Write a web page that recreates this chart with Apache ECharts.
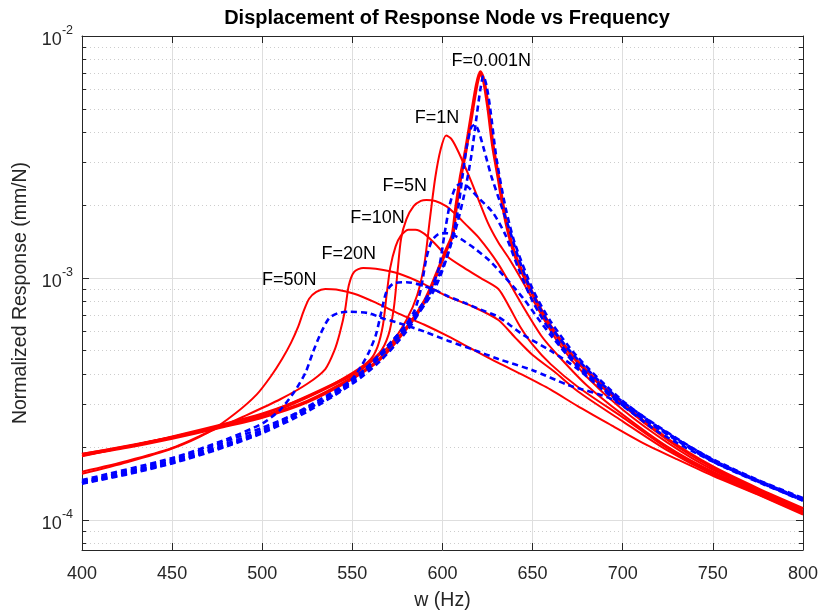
<!DOCTYPE html>
<html><head><meta charset="utf-8">
<script src="https://cdn.jsdelivr.net/npm/echarts@6/dist/echarts.min.js"></script>
<style>html,body{margin:0;padding:0;background:#fff}#c{width:821px;height:616px}</style>
</head><body><div id="c"></div>
<script>
// ---- axis ticks ----
const xTicks = [400, 450, 500, 550, 600, 650, 700, 750, 800];
const yMajor = [1e-4, 1e-3, 1e-2];
const yMinor = [8e-5, 9e-5, 2e-4, 3e-4, 4e-4, 5e-4, 6e-4, 7e-4, 8e-4, 9e-4, 2e-3, 3e-3, 4e-3, 5e-3, 6e-3, 7e-3, 8e-3, 9e-3];
const yRange = [7.5e-5, 1e-2];

// ---- red solid curves: [frequency Hz, response mm/N] ----
const redF0001 = [[400,1.86e-4],[425,2.0e-4],[450,2.18e-4],[475,2.4e-4],[500,2.66e-4],[525,3.08e-4],[550,3.85e-4],[565,4.6e-4],[580,6.2e-4],[590,8.0e-4],[597,1.05e-3],[602,1.3e-3],[605.5,1.5e-3],[607.5,1.95e-3],[610,2.6e-3],[613,3.4e-3],[616.3,4.8e-3],[619,6.3e-3],[621,7.1e-3],[623,6.5e-3],[625.4,5.0e-3],[628,3.5e-3],[631,2.6e-3],[634,1.9e-3],[637,1.5e-3],[641,1.2e-3],[650,0.86e-3],[660,0.63e-3],[675,0.45e-3],[700,0.3e-3],[725,0.215e-3],[750,0.165e-3],[775,0.134e-3],[800,0.111e-3]];
const redF1 = [[400,1.87e-4],[450,2.2e-4],[500,2.68e-4],[550,3.95e-4],[570,5.2e-4],[580,6.7e-4],[586,8.5e-4],[590,1.15e-3],[593,1.75e-3],[596,2.6e-3],[599,3.4e-3],[602,3.88e-3],[605,3.75e-3],[609,3.3e-3],[616,2.5e-3],[625,1.7e-3],[631,1.4e-3],[637,1.2e-3],[645,0.95e-3],[655,0.7e-3],[665,0.53e-3],[680,0.39e-3],[700,0.285e-3],[725,0.208e-3],[750,0.161e-3],[800,0.109e-3]];
const redF5 = [[400,1.84e-4],[450,2.2e-4],[500,2.72e-4],[550,4.0e-4],[565,4.9e-4],[570,5.8e-4],[573,7.5e-4],[575,1.05e-3],[577,1.45e-3],[580,1.75e-3],[584,1.98e-3],[588,2.08e-3],[591,2.1e-3],[596,2.08e-3],[602,1.98e-3],[607,1.84e-3],[613,1.66e-3],[620,1.47e-3],[631,1.14e-3],[643,0.8e-3],[655,0.574e-3],[665,0.47e-3],[680,0.36e-3],[700,0.272e-3],[725,0.2e-3],[750,0.158e-3],[800,0.108e-3]];
const redF10 = [[400,1.83e-4],[450,2.21e-4],[500,2.75e-4],[530,3.35e-4],[550,4.05e-4],[560,4.6e-4],[564,5.2e-4],[567,6.4e-4],[569,8.5e-4],[571,1.1e-3],[574,1.35e-3],[577,1.5e-3],[581,1.58e-3],[585,1.58e-3],[590,1.52e-3],[596,1.38e-3],[603,1.22e-3],[612,1.1e-3],[621,1.0e-3],[631,0.9e-3],[637,0.76e-3],[643,0.63e-3],[650,0.53e-3],[660,0.44e-3],[675,0.355e-3],[700,0.265e-3],[725,0.197e-3],[750,0.156e-3],[800,0.107e-3]];
const redF20 = [[400,1.58e-4],[425,1.75e-4],[450,1.98e-4],[470,2.3e-4],[490,2.68e-4],[510,3.15e-4],[525,3.65e-4],[535,4.2e-4],[540,5.0e-4],[543,5.9e-4],[546,7.4e-4],[548,9.3e-4],[551,1.06e-3],[556,1.1e-3],[563,1.09e-3],[576,1.04e-3],[590,0.94e-3],[603,0.836e-3],[617,0.76e-3],[631,0.67e-3],[640,0.57e-3],[650,0.48e-3],[662,0.41e-3],[675,0.34e-3],[700,0.255e-3],[725,0.193e-3],[750,0.154e-3],[800,0.106e-3]];
const redF50 = [[400,1.55e-4],[425,1.73e-4],[450,1.97e-4],[470,2.3e-4],[485,2.75e-4],[497,3.3e-4],[505,3.94e-4],[511,4.62e-4],[516,5.4e-4],[520,6.3e-4],[523,7.3e-4],[526,8.2e-4],[530,8.75e-4],[535,9.0e-4],[541,8.95e-4],[551,8.6e-4],[563,7.9e-4],[576,7.1e-4],[590,6.4e-4],[603,5.74e-4],[617,5.05e-4],[631,4.45e-4],[645,3.95e-4],[660,3.45e-4],[675,2.95e-4],[694,2.45e-4],[710,2.1e-4],[730,1.78e-4],[750,1.52e-4],[775,1.27e-4],[800,1.05e-4]];

// ---- blue dashed curves ----
const blueA = [[400,1.41e-4],[425,1.54e-4],[450,1.71e-4],[475,1.95e-4],[500,2.28e-4],[525,2.8e-4],[550,3.65e-4],[565,4.5e-4],[580,6.0e-4],[590,7.8e-4],[600,1.1e-3],[607,1.56e-3],[612,2.2e-3],[616,3.2e-3],[619,4.7e-3],[621,6.0e-3],[622.7,6.85e-3],[624.5,6.2e-3],[626.5,5.0e-3],[630,3.1e-3],[635,1.95e-3],[640,1.4e-3],[650,0.9e-3],[660,0.66e-3],[675,0.47e-3],[700,0.31e-3],[725,0.227e-3],[750,0.178e-3],[775,0.146e-3],[800,0.123e-3]];
const blueB = [[400,1.415e-4],[450,1.72e-4],[500,2.3e-4],[550,3.7e-4],[580,6.2e-4],[595,8.8e-4],[603,1.25e-3],[608,1.8e-3],[611,2.6e-3],[613.5,3.5e-3],[616,4.2e-3],[618,4.3e-3],[620,4.05e-3],[623,3.4e-3],[627,2.65e-3],[632,2.05e-3],[637,1.6e-3],[642,1.22e-3],[650,0.86e-3],[660,0.63e-3],[675,0.46e-3],[700,0.307e-3],[750,0.177e-3],[800,0.122e-3]];
const blueC = [[400,1.42e-4],[450,1.73e-4],[500,2.32e-4],[550,3.75e-4],[580,6.4e-4],[592,8.5e-4],[598,1.1e-3],[601,1.5e-3],[604,2.0e-3],[607,2.35e-3],[610,2.45e-3],[614,2.38e-3],[620,2.14e-3],[628,1.86e-3],[635,1.5e-3],[642,1.1e-3],[650,0.8e-3],[660,0.6e-3],[675,0.44e-3],[700,0.303e-3],[750,0.176e-3],[800,0.121e-3]];
const blueD = [[400,1.43e-4],[450,1.75e-4],[500,2.35e-4],[550,3.8e-4],[575,5.8e-4],[584,7.2e-4],[588,9.0e-4],[591,1.2e-3],[594,1.42e-3],[598,1.52e-3],[603,1.53e-3],[610,1.45e-3],[618,1.32e-3],[626,1.18e-3],[635,1.0e-3],[645,0.82e-3],[653,0.68e-3],[660,0.58e-3],[675,0.43e-3],[700,0.3e-3],[750,0.175e-3],[800,0.121e-3]];
const blueE = [[400,1.44e-4],[450,1.77e-4],[500,2.4e-4],[530,3.0e-4],[545,3.5e-4],[553,4.1e-4],[559,4.9e-4],[563,5.8e-4],[566,7.2e-4],[569,8.8e-4],[573,9.5e-4],[580,9.6e-4],[587,9.4e-4],[596,8.9e-4],[603,8.4e-4],[612,7.9e-4],[621,7.4e-4],[631,6.9e-4],[645,5.8e-4],[660,5.0e-4],[675,4.2e-4],[700,0.297e-3],[750,0.174e-3],[800,0.12e-3]];
const blueF = [[400,1.46e-4],[450,1.8e-4],[480,2.15e-4],[500,2.5e-4],[510,2.85e-4],[518,3.4e-4],[524,4.06e-4],[528,4.9e-4],[532,5.8e-4],[537,6.8e-4],[542,7.15e-4],[548,7.25e-4],[559,7.15e-4],[567,6.8e-4],[576,6.5e-4],[590,6.0e-4],[603,5.5e-4],[617,5.05e-4],[631,4.62e-4],[650,4.15e-4],[670,3.6e-4],[694,3.15e-4],[720,0.23e-3],[750,0.174e-3],[800,0.12e-3]];

// ---- annotations ----
const labelNames = ['F=0.001N', 'F=1N', 'F=5N', 'F=10N', 'F=20N', 'F=50N'];
const labelFreq = [627, 597, 579, 564, 548, 515];
const labelResp = [7.9e-3, 4.6e-3, 2.4e-3, 1.76e-3, 1.25e-3, 0.98e-3];

const FONT = '"Liberation Sans", Arial, Helvetica, sans-serif';
const AX = '#262626';
const GRID = '#dedede';
const MINOR = '#cdcdcd';

const chart = echarts.init(document.getElementById('c'), null, {renderer: 'canvas'});

function yLogAxis(extra) {
  return Object.assign({
    type: 'log', logBase: 10, min: yRange[0], max: yRange[1],
    axisLine: {show: false}, axisLabel: {show: false},
    axisTick: {show: false}, splitLine: {show: false}, minorTick: {show: false}
  }, extra);
}

const redSets = [redF0001, redF1, redF5, redF10, redF20, redF50];
const blueSets = [blueA, blueB, blueC, blueD, blueE, blueF];

const series = [];
redSets.forEach((d, i) => {
  series.push({
    type: 'line', data: d, showSymbol: false, symbol: 'none', smooth: 0.25,
    lineStyle: {color: '#ff0000', width: i === 0 ? 3.6 : 2}, z: 3
  });
});
blueSets.forEach((d) => {
  series.push({
    type: 'line', data: d, showSymbol: false, symbol: 'none', smooth: 0.25,
    lineStyle: {color: '#0000ff', width: 2.6, type: [6, 4]}, z: 4
  });
});
series.push({
  type: 'scatter', symbolSize: 1, silent: true, z: 6,
  itemStyle: {opacity: 0},
  data: labelNames.map((n, i) => ({name: n, value: [labelFreq[i], labelResp[i]]})),
  label: {show: true, position: 'inside', formatter: '{b}', color: '#000000', opacity: 1, fontSize: 18, fontFamily: FONT}
});

chart.setOption({
  animation: false,
  backgroundColor: '#ffffff',
  title: {
    text: 'Displacement of Response Node vs Frequency',
    left: 442, top: 3, textAlign: 'center',
    textStyle: {fontSize: 20, fontWeight: 'bold', color: '#000', fontFamily: FONT}
  },
  grid: {left: 82, right: 15, top: 36, bottom: 60, containLabel: false},
  xAxis: [
    {
      type: 'value', min: xTicks[0], max: xTicks[xTicks.length - 1], interval: 50, position: 'bottom',
      axisLine: {show: true, onZero: false, lineStyle: {color: AX, width: 1}},
      axisTick: {show: true, inside: true, length: 7, lineStyle: {color: AX}},
      axisLabel: {color: AX, fontSize: 18, fontFamily: FONT, margin: 15},
      splitLine: {show: true, lineStyle: {color: GRID, width: 1}},
      name: 'w (Hz)', nameLocation: 'middle', nameGap: 41,
      nameTextStyle: {fontSize: 19.5, color: AX, fontFamily: FONT}
    },
    {
      type: 'value', min: xTicks[0], max: xTicks[xTicks.length - 1], interval: 50, position: 'top',
      axisLine: {show: true, onZero: false, lineStyle: {color: AX, width: 1}},
      axisTick: {show: true, inside: true, length: 7, lineStyle: {color: AX}},
      axisLabel: {show: false}, splitLine: {show: false}
    }
  ],
  yAxis: [
    yLogAxis({
      position: 'left',
      axisLine: {show: true, onZero: false, lineStyle: {color: AX, width: 1}},
      axisTick: {show: true, inside: true, length: 7, customValues: yMajor, lineStyle: {color: AX}},
      axisLabel: {
        show: true, customValues: yMajor, margin: 9, color: AX, fontFamily: FONT,
        formatter: (v) => '{b|10}{s|' + Math.round(Math.log10(v)) + '}',
        rich: {
          b: {fontSize: 18, fontFamily: FONT, color: AX, lineHeight: 24, padding: [8, 0, 0, 0]},
          s: {fontSize: 12.5, fontFamily: FONT, color: AX, verticalAlign: 'top', lineHeight: 14}
        }
      },
      splitLine: {show: true, lineStyle: {color: GRID, width: 1}},
      name: 'Normalized Response (mm/N)', nameLocation: 'middle', nameGap: 44,
      nameTextStyle: {fontSize: 19.5, color: AX, fontFamily: FONT}
    }),
    yLogAxis({
      position: 'left',
      axisTick: {show: true, inside: true, length: 4, customValues: yMinor, lineStyle: {color: AX}},
      splitLine: {show: true, lineStyle: {color: MINOR, width: 1, type: [1, 3]}}
    }),
    yLogAxis({
      position: 'right',
      axisLine: {show: true, onZero: false, lineStyle: {color: AX, width: 1}},
      axisTick: {show: true, inside: true, length: 7, customValues: yMajor, lineStyle: {color: AX}}
    }),
    yLogAxis({
      position: 'right',
      axisTick: {show: true, inside: true, length: 4, customValues: yMinor, lineStyle: {color: AX}}
    })
  ],
  series: series
});
</script></body></html>
